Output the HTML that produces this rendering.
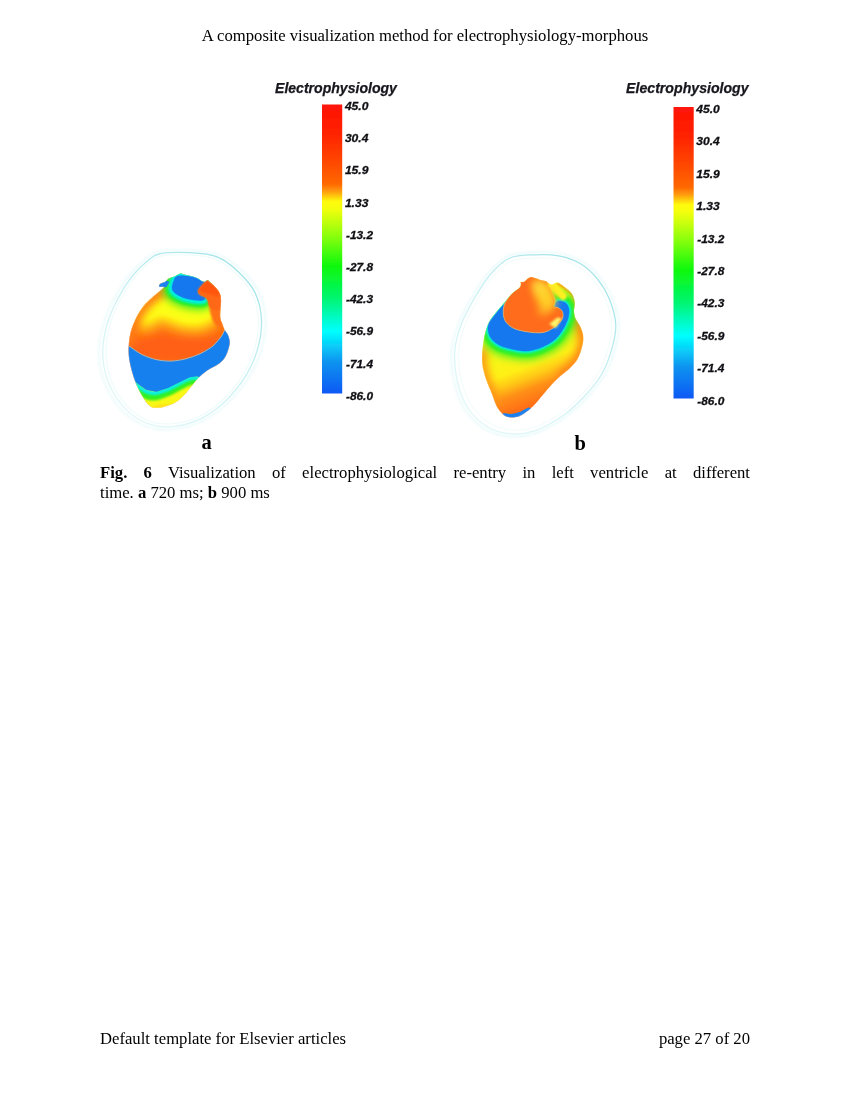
<!DOCTYPE html>
<html><head><meta charset="utf-8">
<style>
html,body{margin:0;padding:0;background:#fff;}
body{width:850px;height:1100px;position:relative;overflow:hidden;font-family:"Liberation Serif",serif;color:#000;}
.t{position:absolute;white-space:nowrap;font-size:16.67px;line-height:20px;}
#hdr{left:0;width:850px;text-align:center;top:26px;}
#cap1{left:100px;width:650px;top:463px;white-space:normal;text-align:justify;text-align-last:justify;}
#cap2{left:100px;top:483px;}
#fl{left:100px;top:1029px;}
#fr{right:100px;top:1029px;}
.lab{position:absolute;font-weight:bold;font-size:20.5px;line-height:20px;}
svg{position:absolute;left:0;top:0;}
svg text{font-family:"Liberation Sans",sans-serif;font-weight:bold;font-style:italic;}
.ttl{font-size:14.2px;fill:#15151c;stroke:#15151c;stroke-width:0.25px;}
.lb{font-size:11.5px;fill:#101014;stroke:#101014;stroke-width:0.3px;}
</style></head><body>
<svg width="850" height="1100" viewBox="0 0 850 1100">
<defs>
<linearGradient id="cb" x1="0" y1="0" x2="0" y2="1">
<stop offset="0" stop-color="#ff1208"/>
<stop offset="0.10" stop-color="#ff2200"/>
<stop offset="0.20" stop-color="#ff4800"/>
<stop offset="0.275" stop-color="#ff6800"/>
<stop offset="0.30" stop-color="#ff9a10"/>
<stop offset="0.335" stop-color="#fffa10"/>
<stop offset="0.36" stop-color="#f4ff10"/>
<stop offset="0.45" stop-color="#90ff08"/>
<stop offset="0.56" stop-color="#0cf80c"/>
<stop offset="0.67" stop-color="#00f570"/>
<stop offset="0.785" stop-color="#00ffff"/>
<stop offset="0.89" stop-color="#1094f0"/>
<stop offset="1" stop-color="#1058f4"/>
</linearGradient>
<filter id="soft" x="-5%" y="-5%" width="110%" height="110%"><feGaussianBlur stdDeviation="0.35"/></filter>
</defs>
<g filter="url(#soft)">
<rect x="322" y="104.5" width="20.2" height="289.0" fill="url(#cb)"/>
<text class="ttl" x="275" y="93.0" textLength="121.9" lengthAdjust="spacingAndGlyphs">Electrophysiology</text>
<text class="lb" x="344.9" y="110.00" textLength="23.5" lengthAdjust="spacingAndGlyphs">45.0</text>
<text class="lb" x="344.9" y="142.19" textLength="23.5" lengthAdjust="spacingAndGlyphs">30.4</text>
<text class="lb" x="344.9" y="174.39" textLength="23.5" lengthAdjust="spacingAndGlyphs">15.9</text>
<text class="lb" x="344.9" y="206.58" textLength="23.5" lengthAdjust="spacingAndGlyphs">1.33</text>
<text class="lb" x="346" y="238.78" textLength="27" lengthAdjust="spacingAndGlyphs">-13.2</text>
<text class="lb" x="346" y="270.97" textLength="27" lengthAdjust="spacingAndGlyphs">-27.8</text>
<text class="lb" x="346" y="303.17" textLength="27" lengthAdjust="spacingAndGlyphs">-42.3</text>
<text class="lb" x="346" y="335.36" textLength="27" lengthAdjust="spacingAndGlyphs">-56.9</text>
<text class="lb" x="346" y="367.56" textLength="27" lengthAdjust="spacingAndGlyphs">-71.4</text>
<text class="lb" x="346" y="399.75" textLength="27" lengthAdjust="spacingAndGlyphs">-86.0</text>
<rect x="673.5" y="107" width="20.2" height="291.5" fill="url(#cb)"/>
<text class="ttl" x="626.1" y="93.4" textLength="122.5" lengthAdjust="spacingAndGlyphs">Electrophysiology</text>
<text class="lb" x="696.3" y="113.00" textLength="23.5" lengthAdjust="spacingAndGlyphs">45.0</text>
<text class="lb" x="696.3" y="145.39" textLength="23.5" lengthAdjust="spacingAndGlyphs">30.4</text>
<text class="lb" x="696.3" y="177.78" textLength="23.5" lengthAdjust="spacingAndGlyphs">15.9</text>
<text class="lb" x="696.3" y="210.17" textLength="23.5" lengthAdjust="spacingAndGlyphs">1.33</text>
<text class="lb" x="697.3" y="242.56" textLength="27" lengthAdjust="spacingAndGlyphs">-13.2</text>
<text class="lb" x="697.3" y="274.94" textLength="27" lengthAdjust="spacingAndGlyphs">-27.8</text>
<text class="lb" x="697.3" y="307.33" textLength="27" lengthAdjust="spacingAndGlyphs">-42.3</text>
<text class="lb" x="697.3" y="339.72" textLength="27" lengthAdjust="spacingAndGlyphs">-56.9</text>
<text class="lb" x="697.3" y="372.11" textLength="27" lengthAdjust="spacingAndGlyphs">-71.4</text>
<text class="lb" x="697.3" y="404.50" textLength="27" lengthAdjust="spacingAndGlyphs">-86.0</text>
</g>
<defs>
<filter id="b1" filterUnits="userSpaceOnUse" x="-400" y="-400" width="1700" height="2000"><feGaussianBlur stdDeviation="2.5"/></filter>
<filter id="b3" filterUnits="userSpaceOnUse" x="-400" y="-400" width="1700" height="2000"><feGaussianBlur stdDeviation="8"/></filter>
<filter id="bs" filterUnits="userSpaceOnUse" x="-400" y="-400" width="1700" height="2000"><feGaussianBlur stdDeviation="3.5"/></filter>
<filter id="b8" filterUnits="userSpaceOnUse" x="-400" y="-400" width="1700" height="2000"><feGaussianBlur stdDeviation="28"/></filter>
</defs>
<linearGradient id="mg" gradientUnits="userSpaceOnUse" x1="-100" y1="1100" x2="800" y2="-100"><stop offset="0" stop-color="#c4f0f2" stop-opacity="0.45"/><stop offset="0.45" stop-color="#b0eaee" stop-opacity="0.6"/><stop offset="1" stop-color="#8adde2" stop-opacity="0.9"/></linearGradient>
<g transform="translate(120,260) scale(0.14545)">
<path d="M274.2,-42.9C322.7,-52.6 412.5,-53.8 478.0,-50.2C543.5,-46.5 611.5,-42.9 667.3,-21.0C723.1,0.8 769.2,39.6 812.9,80.9C856.5,122.1 902.7,170.7 929.3,226.5C956.0,282.3 970.6,350.2 973.0,415.7C975.4,481.3 963.3,554.0 943.9,619.6C924.5,685.1 892.9,750.6 856.5,808.8C820.1,867.1 774.0,922.9 725.5,969.0C677.0,1015.1 623.6,1056.3 565.4,1085.4C507.1,1114.6 436.8,1136.4 376.1,1143.7C315.4,1151.0 257.2,1148.5 201.4,1129.1C145.6,1109.7 87.3,1073.3 41.2,1027.2C-4.9,981.1 -48.5,915.6 -75.2,852.5C-101.9,789.4 -116.5,716.6 -118.9,648.7C-121.3,580.7 -106.8,507.9 -89.8,444.9C-72.8,381.8 -46.1,326.0 -17.0,270.1C12.1,214.3 51.0,153.7 84.9,110.0C118.9,66.3 155.3,33.6 186.8,8.1C218.4,-17.4 225.7,-33.2 274.2,-42.9Z" fill="none" stroke="url(#mg)" stroke-width="9" filter="url(#b1)"/>
<path d="M267.3,-59.5C318.3,-69.5 412.6,-70.8 481.3,-67.0C550.1,-63.3 621.5,-59.5 680.1,-37.0C738.7,-14.5 787.1,25.5 832.9,67.9C878.8,110.4 927.2,160.4 955.2,217.9C983.3,275.4 998.6,345.4 1001.1,412.9C1003.7,480.3 990.9,555.3 970.5,622.8C950.1,690.3 917.0,757.8 878.8,817.7C840.6,877.7 792.2,935.2 741.2,982.7C690.3,1030.2 634.2,1072.7 573.1,1102.7C511.9,1132.6 438.0,1155.1 374.3,1162.6C310.6,1170.1 249.5,1167.6 190.9,1147.6C132.3,1127.6 71.1,1090.2 22.7,1042.7C-25.7,995.2 -71.5,927.7 -99.6,862.7C-127.6,797.7 -142.9,722.8 -145.4,652.8C-148.0,582.8 -132.7,507.8 -114.8,442.8C-97.0,377.9 -69.0,320.4 -38.4,262.9C-7.8,205.4 32.9,142.9 68.6,97.9C104.3,53.0 142.5,19.2 175.6,-7.0C208.7,-33.3 216.4,-49.5 267.3,-59.5Z" fill="none" stroke="#c4f0f2" stroke-opacity="0.45" stroke-width="10" filter="url(#b3)"/>
<path d="M280.5,-26.5C327.1,-35.9 413.3,-37.1 476.1,-33.6C539.0,-30.1 604.3,-26.5 657.8,-5.3C711.4,15.8 755.7,53.5 797.6,93.5C839.5,133.5 883.8,180.6 909.4,234.7C935.0,288.9 949.0,354.8 951.4,418.3C953.7,481.9 942.0,552.5 923.4,616.0C904.8,679.6 874.5,743.1 839.5,799.6C804.6,856.1 760.3,910.2 713.7,955.0C667.2,999.7 615.9,1039.7 560.0,1067.9C504.1,1096.2 436.5,1117.4 378.3,1124.4C320.1,1131.5 264.2,1129.1 210.6,1110.3C157.0,1091.5 101.1,1056.2 56.8,1011.5C12.6,966.7 -29.3,903.2 -55.0,842.0C-80.6,780.8 -94.6,710.2 -96.9,644.3C-99.2,578.4 -85.2,507.8 -68.9,446.6C-52.6,385.4 -27.0,331.2 0.9,277.1C28.9,223.0 66.2,164.1 98.8,121.8C131.4,79.4 166.3,47.6 196.6,22.9C226.9,-1.8 233.9,-17.1 280.5,-26.5Z" fill="none" stroke="#d0f4f4" stroke-opacity="0.4" stroke-width="7" filter="url(#b1)"/>
<clipPath id="cA"><path d="M415.0,92.0C426.7,89.5 422.5,95.3 440.0,100.0C457.5,104.7 497.5,111.7 520.0,120.0C542.5,128.3 561.7,146.7 575.0,150.0C588.3,153.3 593.3,140.0 600.0,140.0C606.7,140.0 606.7,143.3 615.0,150.0C623.3,156.7 638.3,167.5 650.0,180.0C661.7,192.5 677.5,208.3 685.0,225.0C692.5,241.7 694.2,260.8 695.0,280.0C695.8,299.2 690.8,320.0 690.0,340.0C689.2,360.0 687.5,383.3 690.0,400.0C692.5,416.7 700.0,426.7 705.0,440.0C710.0,453.3 713.3,466.7 720.0,480.0C726.7,493.3 739.2,505.0 745.0,520.0C750.8,535.0 755.8,551.7 755.0,570.0C754.2,588.3 746.7,611.7 740.0,630.0C733.3,648.3 726.7,665.0 715.0,680.0C703.3,695.0 689.2,706.7 670.0,720.0C650.8,733.3 621.7,745.0 600.0,760.0C578.3,775.0 558.3,791.7 540.0,810.0C521.7,828.3 506.7,850.0 490.0,870.0C473.3,890.0 458.3,911.7 440.0,930.0C421.7,948.3 403.3,966.7 380.0,980.0C356.7,993.3 325.0,1004.2 300.0,1010.0C275.0,1015.8 248.3,1018.3 230.0,1015.0C211.7,1011.7 203.3,1004.2 190.0,990.0C176.7,975.8 163.3,953.3 150.0,930.0C136.7,906.7 121.7,878.3 110.0,850.0C98.3,821.7 88.3,791.7 80.0,760.0C71.7,728.3 63.3,690.0 60.0,660.0C56.7,630.0 57.5,608.3 60.0,580.0C62.5,551.7 66.7,520.0 75.0,490.0C83.3,460.0 95.8,428.3 110.0,400.0C124.2,371.7 141.7,343.3 160.0,320.0C178.3,296.7 198.3,280.0 220.0,260.0C241.7,240.0 276.7,212.5 290.0,200.0C303.3,187.5 303.3,187.5 300.0,185.0C296.7,182.5 274.2,188.3 270.0,185.0C265.8,181.7 268.3,170.8 275.0,165.0C281.7,159.2 300.8,155.8 310.0,150.0C319.2,144.2 320.0,135.8 330.0,130.0C340.0,124.2 355.8,121.3 370.0,115.0C384.2,108.7 403.3,94.5 415.0,92.0Z"/></clipPath>
<g filter="url(#bs)"><g clip-path="url(#cA)">
<rect x="0" y="0" width="825" height="1100" fill="#ff6a12"/>
<ellipse cx="380" cy="600" rx="360" ry="90" fill="#ff6012" filter="url(#b8)"/>
<path d="M170.0,370.0C185.0,362.5 230.0,330.0 260.0,325.0C290.0,320.0 318.3,331.7 350.0,340.0C381.7,348.3 418.3,368.7 450.0,375.0C481.7,381.3 513.3,383.8 540.0,378.0C566.7,372.2 598.3,346.3 610.0,340.0" fill="none" stroke="#ffa818" stroke-width="270" stroke-linecap="round" filter="url(#b8)"/>
<path d="M170.0,370.0C185.0,362.5 230.0,330.0 260.0,325.0C290.0,320.0 318.3,331.7 350.0,340.0C381.7,348.3 418.3,368.7 450.0,375.0C481.7,381.3 513.3,383.8 540.0,378.0C566.7,372.2 598.3,346.3 610.0,340.0" fill="none" stroke="#ffff18" stroke-width="150" stroke-linecap="round" filter="url(#b8)"/>
<path d="M170.0,370.0C185.0,362.5 230.0,330.0 260.0,325.0C290.0,320.0 318.3,331.7 350.0,340.0C381.7,348.3 418.3,368.7 450.0,375.0C481.7,381.3 513.3,383.8 540.0,378.0C566.7,372.2 598.3,346.3 610.0,340.0" fill="none" stroke="#fcff18" stroke-width="70" stroke-linecap="round" filter="url(#b8)"/>
<path d="M300.0,190.0C286.7,201.7 243.3,238.3 220.0,260.0C196.7,281.7 178.3,296.7 160.0,320.0C141.7,343.3 124.2,371.7 110.0,400.0C95.8,428.3 84.2,458.3 75.0,490.0C65.8,521.7 58.3,573.3 55.0,590.0" fill="none" stroke="#ff7c18" stroke-width="80" filter="url(#b8)"/>
<path d="M400.0,110.0C425.3,105.0 490.8,113.3 520.0,120.0C549.2,126.7 563.3,143.3 575.0,150.0C586.7,156.7 595.8,150.8 590.0,160.0C584.2,169.2 547.5,192.5 540.0,205.0C532.5,217.5 537.5,225.8 545.0,235.0C552.5,244.2 582.5,252.8 585.0,260.0C587.5,267.2 579.2,276.7 560.0,278.0C540.8,279.3 496.7,274.0 470.0,268.0C443.3,262.0 418.3,252.5 400.0,242.0C381.7,231.5 365.3,220.3 360.0,205.0C354.7,189.7 361.3,165.8 368.0,150.0C374.7,134.2 374.7,115.0 400.0,110.0Z" fill="#40f020" stroke="#40f020" stroke-width="130" stroke-linejoin="round" filter="url(#b8)"/>
<path d="M400.0,110.0C425.3,105.0 490.8,113.3 520.0,120.0C549.2,126.7 563.3,143.3 575.0,150.0C586.7,156.7 595.8,150.8 590.0,160.0C584.2,169.2 547.5,192.5 540.0,205.0C532.5,217.5 537.5,225.8 545.0,235.0C552.5,244.2 582.5,252.8 585.0,260.0C587.5,267.2 579.2,276.7 560.0,278.0C540.8,279.3 496.7,274.0 470.0,268.0C443.3,262.0 418.3,252.5 400.0,242.0C381.7,231.5 365.3,220.3 360.0,205.0C354.7,189.7 361.3,165.8 368.0,150.0C374.7,134.2 374.7,115.0 400.0,110.0Z" fill="#20f030" stroke="#20f030" stroke-width="90" stroke-linejoin="round" filter="url(#b3)"/>
<path d="M400.0,110.0C425.3,105.0 490.8,113.3 520.0,120.0C549.2,126.7 563.3,143.3 575.0,150.0C586.7,156.7 595.8,150.8 590.0,160.0C584.2,169.2 547.5,192.5 540.0,205.0C532.5,217.5 537.5,225.8 545.0,235.0C552.5,244.2 582.5,252.8 585.0,260.0C587.5,267.2 579.2,276.7 560.0,278.0C540.8,279.3 496.7,274.0 470.0,268.0C443.3,262.0 418.3,252.5 400.0,242.0C381.7,231.5 365.3,220.3 360.0,205.0C354.7,189.7 361.3,165.8 368.0,150.0C374.7,134.2 374.7,115.0 400.0,110.0Z" fill="#00f0e0" stroke="#00f0e0" stroke-width="48" stroke-linejoin="round" filter="url(#b3)"/>
<path d="M400.0,110.0C425.3,105.0 490.8,113.3 520.0,120.0C549.2,126.7 563.3,143.3 575.0,150.0C586.7,156.7 595.8,150.8 590.0,160.0C584.2,169.2 547.5,192.5 540.0,205.0C532.5,217.5 537.5,225.8 545.0,235.0C552.5,244.2 582.5,252.8 585.0,260.0C587.5,267.2 579.2,276.7 560.0,278.0C540.8,279.3 496.7,274.0 470.0,268.0C443.3,262.0 418.3,252.5 400.0,242.0C381.7,231.5 365.3,220.3 360.0,205.0C354.7,189.7 361.3,165.8 368.0,150.0C374.7,134.2 374.7,115.0 400.0,110.0Z" fill="#1478ee" filter="url(#b1)" stroke="#1478ee" stroke-width="4"/>
<path d="M260.0,195.0L265.0,160.0L310.0,140.0L340.0,150.0L320.0,185.0Z" fill="#1a80f0" filter="url(#b1)"/>
<path d="M600.0,140.0C612.5,130.8 606.7,143.3 615.0,150.0C623.3,156.7 638.3,167.5 650.0,180.0C661.7,192.5 676.7,208.3 685.0,225.0C693.3,241.7 697.5,260.8 700.0,280.0C702.5,299.2 699.2,313.3 700.0,340.0C700.8,366.7 706.7,418.3 705.0,440.0C703.3,461.7 699.2,470.0 690.0,470.0C680.8,470.0 660.8,455.0 650.0,440.0C639.2,425.0 631.3,400.0 625.0,380.0C618.7,360.0 615.3,335.8 612.0,320.0C608.7,304.2 609.0,295.3 605.0,285.0C601.0,274.7 598.0,266.3 588.0,258.0C578.0,249.7 553.0,243.8 545.0,235.0C537.0,226.2 530.8,220.8 540.0,205.0C549.2,189.2 587.5,149.2 600.0,140.0Z" fill="#ff7216" filter="url(#b3)"/>
<path d="M600.0,140.0C612.5,130.8 606.7,143.3 615.0,150.0C623.3,156.7 638.3,167.5 650.0,180.0C661.7,192.5 676.7,208.3 685.0,225.0C693.3,241.7 697.5,260.8 700.0,280.0C702.5,299.2 708.3,329.2 700.0,340.0C691.7,350.8 664.2,348.3 650.0,345.0C635.8,341.7 622.5,330.0 615.0,320.0C607.5,310.0 609.5,295.3 605.0,285.0C600.5,274.7 598.0,266.3 588.0,258.0C578.0,249.7 553.0,243.8 545.0,235.0C537.0,226.2 530.8,220.8 540.0,205.0C549.2,189.2 587.5,149.2 600.0,140.0Z" fill="#ff6814" filter="url(#b1)"/>
<path d="M600.0,140.0L660.0,190.0L690.0,250.0L640.0,240.0L560.0,215.0L540.0,205.0Z" fill="#ff5410" filter="url(#b3)"/>
<path d="M80.0,820.0L110.0,842.0L180.0,892.0L250.0,905.0L330.0,880.0L420.0,835.0L480.0,806.0L530.0,800.0L620.0,840.0L720.0,900.0L720.0,1100.0L0.0,1100.0L0.0,830.0Z" fill="#f8f818" filter="url(#b1)"/>
<ellipse cx="330" cy="1010" rx="100" ry="18" fill="#ffe018" filter="url(#b3)"/>
<path d="M70.0,854.0C75.0,857.7 83.3,864.0 100.0,876.0C116.7,888.0 146.7,915.5 170.0,926.0C193.3,936.5 215.0,941.0 240.0,939.0C265.0,937.0 291.7,925.7 320.0,914.0C348.3,902.3 385.0,881.3 410.0,869.0C435.0,856.7 451.7,845.8 470.0,840.0C488.3,834.2 496.7,828.3 520.0,834.0C543.3,839.7 578.3,857.3 610.0,874.0C641.7,890.7 693.3,924.0 710.0,934.0" fill="none" stroke="#30f020" stroke-width="52" filter="url(#b3)"/>
<path d="M77.0,830.0C82.0,833.7 90.3,840.0 107.0,852.0C123.7,864.0 153.7,891.5 177.0,902.0C200.3,912.5 222.0,917.0 247.0,915.0C272.0,913.0 298.7,901.7 327.0,890.0C355.3,878.3 392.0,857.3 417.0,845.0C442.0,832.7 458.7,821.8 477.0,816.0C495.3,810.2 503.7,804.3 527.0,810.0C550.3,815.7 585.3,833.3 617.0,850.0C648.7,866.7 700.3,900.0 717.0,910.0" fill="none" stroke="#00f0f0" stroke-width="26" filter="url(#b3)"/>
<path d="M40.0,575.0L60.0,590.0L150.0,650.0L250.0,685.0L350.0,695.0L450.0,680.0L550.0,645.0L640.0,590.0L700.0,520.0L720.0,480.0L740.0,460.0L800.0,460.0L800.0,900.0L720.0,900.0L620.0,840.0L530.0,800.0L480.0,806.0L420.0,835.0L330.0,880.0L250.0,905.0L180.0,892.0L110.0,842.0L80.0,820.0L0.0,800.0L0.0,575.0Z" fill="#1680ee" filter="url(#b1)"/>
<path d="M40.0,575.0C43.3,577.5 41.7,577.5 60.0,590.0C78.3,602.5 118.3,634.2 150.0,650.0C181.7,665.8 216.7,677.5 250.0,685.0C283.3,692.5 316.7,695.8 350.0,695.0C383.3,694.2 416.7,688.3 450.0,680.0C483.3,671.7 518.3,660.0 550.0,645.0C581.7,630.0 615.0,610.8 640.0,590.0C665.0,569.2 686.7,538.3 700.0,520.0C713.3,501.7 713.3,490.0 720.0,480.0C726.7,470.0 736.7,463.3 740.0,460.0" fill="none" stroke="#d8c8a0" stroke-width="5" filter="url(#b1)"/>
</g></g>
<path d="M415.0,92.0C426.7,89.5 422.5,95.3 440.0,100.0C457.5,104.7 497.5,111.7 520.0,120.0C542.5,128.3 561.7,146.7 575.0,150.0C588.3,153.3 593.3,140.0 600.0,140.0C606.7,140.0 606.7,143.3 615.0,150.0C623.3,156.7 638.3,167.5 650.0,180.0C661.7,192.5 677.5,208.3 685.0,225.0C692.5,241.7 694.2,260.8 695.0,280.0C695.8,299.2 690.8,320.0 690.0,340.0C689.2,360.0 687.5,383.3 690.0,400.0C692.5,416.7 700.0,426.7 705.0,440.0C710.0,453.3 713.3,466.7 720.0,480.0C726.7,493.3 739.2,505.0 745.0,520.0C750.8,535.0 755.8,551.7 755.0,570.0C754.2,588.3 746.7,611.7 740.0,630.0C733.3,648.3 726.7,665.0 715.0,680.0C703.3,695.0 689.2,706.7 670.0,720.0C650.8,733.3 621.7,745.0 600.0,760.0C578.3,775.0 558.3,791.7 540.0,810.0C521.7,828.3 506.7,850.0 490.0,870.0C473.3,890.0 458.3,911.7 440.0,930.0C421.7,948.3 403.3,966.7 380.0,980.0C356.7,993.3 325.0,1004.2 300.0,1010.0C275.0,1015.8 248.3,1018.3 230.0,1015.0C211.7,1011.7 203.3,1004.2 190.0,990.0C176.7,975.8 163.3,953.3 150.0,930.0C136.7,906.7 121.7,878.3 110.0,850.0C98.3,821.7 88.3,791.7 80.0,760.0C71.7,728.3 63.3,690.0 60.0,660.0C56.7,630.0 57.5,608.3 60.0,580.0C62.5,551.7 66.7,520.0 75.0,490.0C83.3,460.0 95.8,428.3 110.0,400.0C124.2,371.7 141.7,343.3 160.0,320.0C178.3,296.7 198.3,280.0 220.0,260.0C241.7,240.0 276.7,212.5 290.0,200.0C303.3,187.5 303.3,187.5 300.0,185.0C296.7,182.5 274.2,188.3 270.0,185.0C265.8,181.7 268.3,170.8 275.0,165.0C281.7,159.2 300.8,155.8 310.0,150.0C319.2,144.2 320.0,135.8 330.0,130.0C340.0,124.2 355.8,121.3 370.0,115.0C384.2,108.7 403.3,94.5 415.0,92.0Z" fill="none" stroke="#fff" stroke-opacity="0.35" stroke-width="5" filter="url(#b1)"/>
</g>
<g transform="translate(470,260) scale(0.14545)">
<path d="M274.2,-13.8C325.1,-35.6 393.1,-33.2 448.9,-35.6C504.7,-38.0 558.1,-38.0 609.0,-28.3C660.0,-18.6 711.0,-2.8 754.6,22.6C798.3,48.1 837.1,83.3 871.1,124.6C905.1,165.8 936.6,216.8 958.5,270.1C980.3,323.5 999.7,386.6 1002.1,444.9C1004.6,503.1 990.0,561.3 973.0,619.6C956.0,677.8 931.8,740.9 900.2,794.3C868.7,847.7 827.4,893.8 783.8,939.9C740.1,986.0 694.0,1032.1 638.2,1070.9C582.4,1109.7 509.6,1152.2 448.9,1172.8C388.2,1193.4 330.0,1199.5 274.2,1194.6C218.4,1189.8 162.6,1174.0 114.0,1143.7C65.5,1113.4 17.0,1066.0 -17.0,1012.7C-51.0,959.3 -75.2,888.9 -89.8,823.4C-104.3,757.9 -109.2,682.7 -104.3,619.6C-99.5,556.5 -82.5,503.1 -60.7,444.9C-38.8,386.6 -7.3,328.4 26.7,270.1C60.7,211.9 101.9,142.8 143.2,95.4C184.4,48.1 223.2,8.1 274.2,-13.8Z" fill="none" stroke="url(#mg)" stroke-width="9" filter="url(#b1)"/>
<path d="M267.3,-30.6C320.3,-53.1 390.9,-50.6 449.0,-53.1C507.0,-55.6 562.5,-55.6 615.5,-45.6C668.5,-35.6 721.5,-19.4 766.9,6.8C812.3,33.1 852.7,69.3 888.1,111.8C923.4,154.3 956.2,206.8 978.9,261.8C1001.6,316.8 1021.8,381.7 1024.3,441.7C1026.8,501.7 1011.7,561.7 994.0,621.7C976.4,681.7 951.1,746.6 918.3,801.6C885.5,856.6 842.6,904.1 797.2,951.6C751.8,999.1 703.8,1046.5 645.8,1086.5C587.8,1126.5 512.0,1170.3 449.0,1191.5C385.9,1212.8 325.3,1219.0 267.3,1214.0C209.2,1209.0 151.2,1192.8 100.7,1161.5C50.2,1130.3 -0.2,1081.5 -35.6,1026.6C-70.9,971.6 -96.1,899.1 -111.3,831.6C-126.4,764.1 -131.5,686.7 -126.4,621.7C-121.4,556.7 -103.7,501.7 -81.0,441.7C-58.3,381.7 -25.5,321.8 9.9,261.8C45.2,201.8 88.1,130.6 131.0,81.8C173.9,33.1 214.3,-8.2 267.3,-30.6Z" fill="none" stroke="#c4f0f2" stroke-opacity="0.45" stroke-width="10" filter="url(#b3)"/>
<path d="M283.6,8.4C332.0,-12.6 396.6,-10.3 449.6,-12.6C502.6,-14.9 553.3,-14.9 601.7,-5.6C650.1,3.7 698.5,18.9 740.0,43.3C781.5,67.8 818.4,101.5 850.7,141.1C882.9,180.7 912.9,229.7 933.7,280.9C954.4,332.2 972.8,392.7 975.2,448.6C977.5,504.5 963.6,560.4 947.5,616.4C931.4,672.3 908.3,732.8 878.3,784.1C848.4,835.3 809.2,879.6 767.7,923.8C726.2,968.1 682.4,1012.4 629.4,1049.6C576.4,1086.9 507.2,1127.7 449.6,1147.5C391.9,1167.3 336.6,1173.1 283.6,1168.4C230.6,1163.8 177.6,1148.6 131.5,1119.5C85.4,1090.4 39.3,1045.0 7.0,993.7C-25.3,942.5 -48.3,874.9 -62.2,812.0C-76.0,749.1 -80.6,676.9 -76.0,616.4C-71.4,555.8 -55.3,504.5 -34.5,448.6C-13.8,392.7 16.2,336.8 48.5,280.9C80.7,225.0 119.9,158.6 159.1,113.2C198.3,67.8 235.2,29.3 283.6,8.4Z" fill="none" stroke="#d0f4f4" stroke-opacity="0.4" stroke-width="6" filter="url(#b1)"/>
<clipPath id="cB"><path d="M430.0,118.0C443.3,119.7 465.0,130.5 480.0,135.0C495.0,139.5 506.7,139.2 520.0,145.0C533.3,150.8 546.7,168.3 560.0,170.0C573.3,171.7 585.0,152.5 600.0,155.0C615.0,157.5 633.3,172.5 650.0,185.0C666.7,197.5 688.3,212.5 700.0,230.0C711.7,247.5 717.5,270.0 720.0,290.0C722.5,310.0 714.2,331.7 715.0,350.0C715.8,368.3 717.5,381.7 725.0,400.0C732.5,418.3 750.8,438.3 760.0,460.0C769.2,481.7 778.3,506.7 780.0,530.0C781.7,553.3 776.7,575.0 770.0,600.0C763.3,625.0 753.3,656.7 740.0,680.0C726.7,703.3 710.0,720.0 690.0,740.0C670.0,760.0 641.7,780.0 620.0,800.0C598.3,820.0 580.0,838.3 560.0,860.0C540.0,881.7 520.0,906.7 500.0,930.0C480.0,953.3 460.0,980.0 440.0,1000.0C420.0,1020.0 400.0,1036.7 380.0,1050.0C360.0,1063.3 340.0,1075.0 320.0,1080.0C300.0,1085.0 277.5,1085.0 260.0,1080.0C242.5,1075.0 228.3,1063.3 215.0,1050.0C201.7,1036.7 190.8,1021.7 180.0,1000.0C169.2,978.3 161.7,950.0 150.0,920.0C138.3,890.0 120.8,853.3 110.0,820.0C99.2,786.7 89.2,753.3 85.0,720.0C80.8,686.7 82.5,653.3 85.0,620.0C87.5,586.7 92.5,551.7 100.0,520.0C107.5,488.3 116.7,456.7 130.0,430.0C143.3,403.3 163.3,381.7 180.0,360.0C196.7,338.3 211.7,321.7 230.0,300.0C248.3,278.3 271.7,248.3 290.0,230.0C308.3,211.7 330.0,200.8 340.0,190.0C350.0,179.2 349.2,171.7 350.0,165.0C350.8,158.3 341.7,152.5 345.0,150.0C348.3,147.5 360.8,154.2 370.0,150.0C379.2,145.8 390.0,130.3 400.0,125.0C410.0,119.7 416.7,116.3 430.0,118.0Z"/></clipPath>
<linearGradient id="gB" gradientUnits="userSpaceOnUse" x1="250" y1="620" x2="430" y2="1100"><stop offset="0" stop-color="#f4f818"/><stop offset="0.3" stop-color="#fff018"/><stop offset="0.45" stop-color="#ffc818"/><stop offset="0.6" stop-color="#ff9018"/><stop offset="0.8" stop-color="#ff7018"/><stop offset="1" stop-color="#ff6414"/></linearGradient>
<g filter="url(#bs)"><g clip-path="url(#cB)">
<rect x="0" y="0" width="825" height="1100" fill="url(#gB)"/>
<path d="M720.0,300.0C721.7,316.7 721.7,371.7 730.0,400.0C738.3,428.3 760.0,446.7 770.0,470.0C780.0,493.3 788.3,515.0 790.0,540.0C791.7,565.0 787.5,593.3 780.0,620.0C772.5,646.7 760.0,676.7 745.0,700.0C730.0,723.3 710.8,740.0 690.0,760.0C669.2,780.0 631.7,810.0 620.0,820.0" fill="none" stroke="#ff8418" stroke-width="90" filter="url(#b8)"/>
<path d="M80.0,600.0C80.0,620.0 75.8,683.3 80.0,720.0C84.2,756.7 94.2,786.7 105.0,820.0C115.8,853.3 132.5,890.0 145.0,920.0C157.5,950.0 174.2,986.7 180.0,1000.0" fill="none" stroke="#ff9018" stroke-width="70" filter="url(#b8)"/>
<path d="M600.0,155.0C608.3,160.0 633.3,172.5 650.0,185.0C666.7,197.5 687.5,212.5 700.0,230.0C712.5,247.5 721.7,270.0 725.0,290.0C728.3,310.0 720.8,340.0 720.0,350.0" fill="none" stroke="#ffa018" stroke-width="30" filter="url(#b3)"/>
<path d="M235.0,305.0C213.3,325.0 188.3,355.8 170.0,380.0C151.7,404.2 130.0,425.0 125.0,450.0C120.0,475.0 127.5,507.5 140.0,530.0C152.5,552.5 173.3,570.8 200.0,585.0C226.7,599.2 266.7,608.3 300.0,615.0C333.3,621.7 366.7,628.0 400.0,625.0C433.3,622.0 469.2,610.3 500.0,597.0C530.8,583.7 561.3,565.8 585.0,545.0C608.7,524.2 627.2,496.2 642.0,472.0C656.8,447.8 667.7,422.0 674.0,400.0C680.3,378.0 682.3,357.0 680.0,340.0C677.7,323.0 670.0,307.7 660.0,298.0C650.0,288.3 631.7,283.0 620.0,282.0C608.3,281.0 597.3,285.7 590.0,292.0C582.7,298.3 587.7,327.0 576.0,320.0C564.3,313.0 549.3,265.0 520.0,250.0C490.7,235.0 436.7,228.3 400.0,230.0C363.3,231.7 327.5,247.5 300.0,260.0C272.5,272.5 256.7,285.0 235.0,305.0Z" fill="#40f020" stroke="#40f020" stroke-width="120" stroke-linejoin="round" filter="url(#b8)"/>
<path d="M235.0,305.0C213.3,325.0 188.3,355.8 170.0,380.0C151.7,404.2 130.0,425.0 125.0,450.0C120.0,475.0 127.5,507.5 140.0,530.0C152.5,552.5 173.3,570.8 200.0,585.0C226.7,599.2 266.7,608.3 300.0,615.0C333.3,621.7 366.7,628.0 400.0,625.0C433.3,622.0 469.2,610.3 500.0,597.0C530.8,583.7 561.3,565.8 585.0,545.0C608.7,524.2 627.2,496.2 642.0,472.0C656.8,447.8 667.7,422.0 674.0,400.0C680.3,378.0 682.3,357.0 680.0,340.0C677.7,323.0 670.0,307.7 660.0,298.0C650.0,288.3 631.7,283.0 620.0,282.0C608.3,281.0 597.3,285.7 590.0,292.0C582.7,298.3 587.7,327.0 576.0,320.0C564.3,313.0 549.3,265.0 520.0,250.0C490.7,235.0 436.7,228.3 400.0,230.0C363.3,231.7 327.5,247.5 300.0,260.0C272.5,272.5 256.7,285.0 235.0,305.0Z" fill="#30f028" stroke="#30f028" stroke-width="80" stroke-linejoin="round" filter="url(#b3)"/>
<path d="M235.0,305.0C213.3,325.0 188.3,355.8 170.0,380.0C151.7,404.2 130.0,425.0 125.0,450.0C120.0,475.0 127.5,507.5 140.0,530.0C152.5,552.5 173.3,570.8 200.0,585.0C226.7,599.2 266.7,608.3 300.0,615.0C333.3,621.7 366.7,628.0 400.0,625.0C433.3,622.0 469.2,610.3 500.0,597.0C530.8,583.7 561.3,565.8 585.0,545.0C608.7,524.2 627.2,496.2 642.0,472.0C656.8,447.8 667.7,422.0 674.0,400.0C680.3,378.0 682.3,357.0 680.0,340.0C677.7,323.0 670.0,307.7 660.0,298.0C650.0,288.3 631.7,283.0 620.0,282.0C608.3,281.0 597.3,285.7 590.0,292.0C582.7,298.3 587.7,327.0 576.0,320.0C564.3,313.0 549.3,265.0 520.0,250.0C490.7,235.0 436.7,228.3 400.0,230.0C363.3,231.7 327.5,247.5 300.0,260.0C272.5,272.5 256.7,285.0 235.0,305.0Z" fill="#00f0e8" stroke="#00f0e8" stroke-width="28" stroke-linejoin="round" filter="url(#b3)"/>
<path d="M235.0,305.0C213.3,325.0 188.3,355.8 170.0,380.0C151.7,404.2 130.0,425.0 125.0,450.0C120.0,475.0 127.5,507.5 140.0,530.0C152.5,552.5 173.3,570.8 200.0,585.0C226.7,599.2 266.7,608.3 300.0,615.0C333.3,621.7 366.7,628.0 400.0,625.0C433.3,622.0 469.2,610.3 500.0,597.0C530.8,583.7 561.3,565.8 585.0,545.0C608.7,524.2 627.2,496.2 642.0,472.0C656.8,447.8 667.7,422.0 674.0,400.0C680.3,378.0 682.3,357.0 680.0,340.0C677.7,323.0 670.0,307.7 660.0,298.0C650.0,288.3 631.7,283.0 620.0,282.0C608.3,281.0 597.3,285.7 590.0,292.0C582.7,298.3 587.7,327.0 576.0,320.0C564.3,313.0 549.3,265.0 520.0,250.0C490.7,235.0 436.7,228.3 400.0,230.0C363.3,231.7 327.5,247.5 300.0,260.0C272.5,272.5 256.7,285.0 235.0,305.0Z" fill="#1478ee" stroke="#1478ee" stroke-width="4" filter="url(#b1)"/>
<path d="M235.0,310.0C228.3,331.7 227.5,360.0 230.0,380.0C232.5,400.0 238.3,415.0 250.0,430.0C261.7,445.0 280.0,460.0 300.0,470.0C320.0,480.0 345.0,485.0 370.0,490.0C395.0,495.0 426.7,498.8 450.0,500.0C473.3,501.2 491.7,501.2 510.0,497.0C528.3,492.8 543.7,484.5 560.0,475.0C576.3,465.5 595.0,453.3 608.0,440.0C621.0,426.7 633.7,409.7 638.0,395.0C642.3,380.3 639.3,363.2 634.0,352.0C628.7,340.8 615.7,333.3 606.0,328.0C596.3,322.7 579.5,328.0 576.0,320.0C572.5,312.0 586.8,295.8 585.0,280.0C583.2,264.2 571.7,243.3 565.0,225.0C558.3,206.7 555.8,189.2 545.0,170.0C534.2,150.8 519.2,122.5 500.0,110.0C480.8,97.5 458.3,85.0 430.0,95.0C401.7,105.0 356.7,144.2 330.0,170.0C303.3,195.8 285.8,226.7 270.0,250.0C254.2,273.3 241.7,288.3 235.0,310.0Z" fill="#ff6c1c" stroke="#f0c070" stroke-width="5" filter="url(#b1)"/>
<path d="M470.0,170.0C478.3,180.0 508.3,208.3 520.0,230.0C531.7,251.7 543.3,280.0 540.0,300.0C536.7,320.0 506.7,341.7 500.0,350.0" fill="none" stroke="#ffb428" stroke-width="60" stroke-linecap="round" filter="url(#b8)"/>
<path d="M560.0,170.0C566.7,176.7 586.7,196.7 600.0,210.0C613.3,223.3 633.3,243.3 640.0,250.0" fill="none" stroke="#fff020" stroke-width="50" stroke-linecap="round" filter="url(#b3)"/>
<path d="M545.0,440.0L600.0,395.0L630.0,400.0L590.0,470.0Z" fill="#fcf468" filter="url(#b3)"/>
<ellipse cx="515" cy="250" rx="60" ry="95" fill="#ffd028" filter="url(#b8)" transform="rotate(-20 515 250)"/>
<ellipse cx="470" cy="190" rx="30" ry="50" fill="#ffe040" filter="url(#b8)" transform="rotate(-30 470 190)"/>
<path d="M225.0,1055.0C231.7,1049.7 260.8,1059.7 280.0,1058.0C299.2,1056.3 320.0,1052.2 340.0,1045.0C360.0,1037.8 386.7,1017.5 400.0,1015.0C413.3,1012.5 423.3,1020.8 420.0,1030.0C416.7,1039.2 400.0,1058.3 380.0,1070.0C360.0,1081.7 323.3,1096.7 300.0,1100.0C276.7,1103.3 252.5,1097.5 240.0,1090.0C227.5,1082.5 218.3,1060.3 225.0,1055.0Z" fill="#1a80ee" filter="url(#b1)"/>
</g></g>
<path d="M430.0,118.0C443.3,119.7 465.0,130.5 480.0,135.0C495.0,139.5 506.7,139.2 520.0,145.0C533.3,150.8 546.7,168.3 560.0,170.0C573.3,171.7 585.0,152.5 600.0,155.0C615.0,157.5 633.3,172.5 650.0,185.0C666.7,197.5 688.3,212.5 700.0,230.0C711.7,247.5 717.5,270.0 720.0,290.0C722.5,310.0 714.2,331.7 715.0,350.0C715.8,368.3 717.5,381.7 725.0,400.0C732.5,418.3 750.8,438.3 760.0,460.0C769.2,481.7 778.3,506.7 780.0,530.0C781.7,553.3 776.7,575.0 770.0,600.0C763.3,625.0 753.3,656.7 740.0,680.0C726.7,703.3 710.0,720.0 690.0,740.0C670.0,760.0 641.7,780.0 620.0,800.0C598.3,820.0 580.0,838.3 560.0,860.0C540.0,881.7 520.0,906.7 500.0,930.0C480.0,953.3 460.0,980.0 440.0,1000.0C420.0,1020.0 400.0,1036.7 380.0,1050.0C360.0,1063.3 340.0,1075.0 320.0,1080.0C300.0,1085.0 277.5,1085.0 260.0,1080.0C242.5,1075.0 228.3,1063.3 215.0,1050.0C201.7,1036.7 190.8,1021.7 180.0,1000.0C169.2,978.3 161.7,950.0 150.0,920.0C138.3,890.0 120.8,853.3 110.0,820.0C99.2,786.7 89.2,753.3 85.0,720.0C80.8,686.7 82.5,653.3 85.0,620.0C87.5,586.7 92.5,551.7 100.0,520.0C107.5,488.3 116.7,456.7 130.0,430.0C143.3,403.3 163.3,381.7 180.0,360.0C196.7,338.3 211.7,321.7 230.0,300.0C248.3,278.3 271.7,248.3 290.0,230.0C308.3,211.7 330.0,200.8 340.0,190.0C350.0,179.2 349.2,171.7 350.0,165.0C350.8,158.3 341.7,152.5 345.0,150.0C348.3,147.5 360.8,154.2 370.0,150.0C379.2,145.8 390.0,130.3 400.0,125.0C410.0,119.7 416.7,116.3 430.0,118.0Z" fill="none" stroke="#fff" stroke-opacity="0.35" stroke-width="5" filter="url(#b1)"/>
</g>
</svg>
<div class="t" id="hdr">A composite visualization method for electrophysiology-morphous</div>
<div class="t" id="cap1"><b>Fig. 6</b> Visualization of electrophysiological re-entry in left ventricle at different</div>
<div class="t" id="cap2">time. <b>a</b> 720 ms; <b>b</b> 900 ms</div>
<div class="t" id="fl">Default template for Elsevier articles</div>
<div class="t" id="fr">page 27 of 20</div>
<div class="lab" id="la" style="left:201.5px;top:431.7px;">a</div>
<div class="lab" id="lb" style="left:574.5px;top:433px;">b</div>
</body></html>
